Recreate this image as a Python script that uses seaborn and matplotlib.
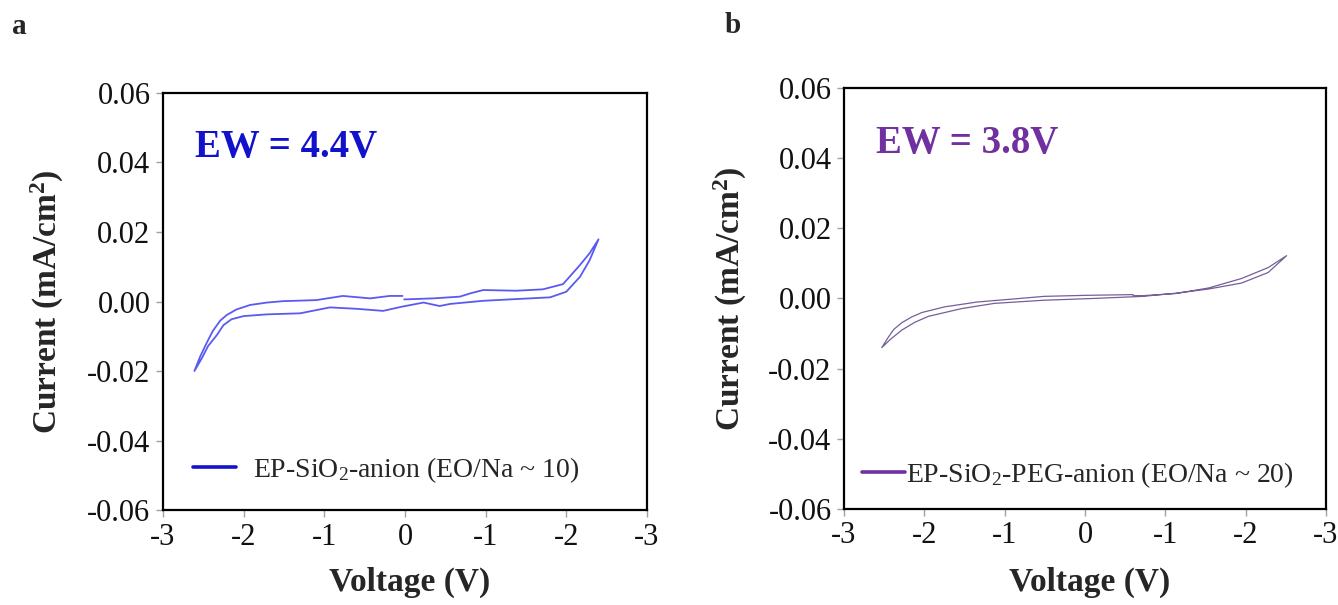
import numpy as np
import pandas as pd
import matplotlib
matplotlib.use("Agg")
import matplotlib.pyplot as plt
import seaborn as sns

# ---------------- data ----------------
a_volt = [-0.01, 0.35, 0.68, 0.82, 0.97, 1.38, 1.71, 1.96, 2.17, 2.29, 2.40,
          2.29, 2.17, 2.00, 1.80, 1.38, 0.97, 0.56, 0.43, 0.23, -0.04, -0.27,
          -0.60, -0.93, -1.30, -1.71, -2.00, -2.15, -2.25, -2.33, -2.44, -2.52, -2.61,
          -2.54, -2.46, -2.38, -2.29, -2.21, -2.09, -1.92, -1.71, -1.51, -1.10,
          -0.77, -0.43, -0.19, -0.03]
a_curr = [0.0006, 0.0009, 0.0014, 0.0024, 0.0033, 0.0031, 0.0035, 0.0050, 0.0105, 0.0139, 0.0179,
          0.0119, 0.0071, 0.0028, 0.0012, 0.0007, 0.0002, -0.0007, -0.0013, -0.0003, -0.0015, -0.0027,
          -0.0021, -0.0017, -0.0034, -0.0037, -0.0042, -0.0051, -0.0068, -0.0096, -0.0128, -0.0164, -0.0200,
          -0.0159, -0.0120, -0.0084, -0.0055, -0.0039, -0.0023, -0.0010, -0.0003, 0.0001, 0.0004,
          0.0016, 0.0009, 0.0016, 0.0016]

b_volt = [0.60, 0.02, -0.51, -0.92, -1.34, -1.75, -2.03, -2.16, -2.28, -2.38, -2.45, -2.53,
          -2.42, -2.28, -2.12, -1.95, -1.54, -1.13, -0.51, 0.10, 0.72, 1.13, 1.54, 1.95, 2.28, 2.51,
          2.28, 1.95, 1.54, 1.13, 0.72, 0.60]
b_curr = [0.0011, 0.0009, 0.0006, -0.0002, -0.0010, -0.0024, -0.0040, -0.0053, -0.0069, -0.0088, -0.0111, -0.0140,
          -0.0116, -0.0090, -0.0068, -0.0051, -0.0029, -0.0014, -0.0005, 0.0000, 0.0006, 0.0015, 0.0027, 0.0044, 0.0074, 0.0122,
          0.0088, 0.0057, 0.0030, 0.0014, 0.0008, 0.0008]

y_ticks = [-0.06, -0.04, -0.02, 0.00, 0.02, 0.04, 0.06]
x_ticks = [-3, -2, -1, 0, 1, 2, 3]
x_ticklabels = ["-3", "-2", "-1", "0", "-1", "-2", "-3"]

panels = [
    dict(df=pd.DataFrame({"V": a_volt, "I": a_curr}), letter="a", ew="EW = 4.4V",
         label="EP-SiO$_2$-anion (EO/Na ~ 10)", line="#5a5af2", lw=1.3,
         dark="#1212cc", textpad=0.6, leg_xy=(0.062, 0.096), ylab_x=-0.2,
         rect=[0.1218, 0.157, 0.3617, 0.6893]),
    dict(df=pd.DataFrame({"V": b_volt, "I": b_curr}), letter="b", ew="EW = 3.8V",
         label="EP-SiO$_2$-PEG-anion (EO/Na ~ 20)", line="#765f96", lw=0.9,
         dark="#7030a0", textpad=0.05, leg_xy=(0.037, 0.081), ylab_x=-0.198,
         rect=[0.6308, 0.1587, 0.3602, 0.6959]),
]

# ---------------- style ----------------
sns.set_theme(style="ticks")
plt.rcParams["font.family"] = ["Liberation Serif", "DejaVu Serif"]
plt.rcParams["mathtext.fontset"] = "custom"
plt.rcParams["mathtext.rm"] = "Liberation Serif"
plt.rcParams["mathtext.it"] = "Liberation Serif:italic"
plt.rcParams["mathtext.bf"] = "Liberation Serif:bold"

fig = plt.figure(figsize=(13.38, 6.05), dpi=100)
letter_pos = {"a": (12, 34), "b": (725, 33)}

for p in panels:
    ax = fig.add_axes(p["rect"])
    sns.lineplot(data=p["df"], x="V", y="I", sort=False, estimator=None,
                 color=p["line"], lw=p["lw"], ax=ax, label=p["label"])

    ax.set_xlim(-3, 3)
    ax.set_ylim(-0.06, 0.06)
    ax.set_xticks(x_ticks)
    ax.set_xticklabels(x_ticklabels)
    ax.set_yticks(y_ticks)
    ax.set_yticklabels([f"{v:.2f}" for v in y_ticks])
    ax.tick_params(axis="both", direction="out", length=5, width=1, color="#a0a0a0",
                   labelsize=22, labelcolor="#111111", pad=4)

    for s in ax.spines.values():
        s.set_visible(True)
        s.set_color("black")
        s.set_linewidth(1.6)

    ax.set_xlabel("Voltage (V)", fontsize=24, fontweight="bold")
    ax.set_ylabel(r"Current (mA/cm$^{\mathbf{2}}$)", fontsize=24, fontweight="bold")
    ax.xaxis.set_label_coords(0.51, -0.137)
    ax.yaxis.set_label_coords(p["ylab_x"], 0.5)

    ax.text(0.067, 0.846, p["ew"], transform=ax.transAxes, fontsize=28,
            fontweight="bold", color=p["dark"], va="baseline", ha="left")

    leg = ax.legend(loc="center left", bbox_to_anchor=p["leg_xy"], frameon=False,
                    fontsize=20, handlelength=1.55, handletextpad=p["textpad"],
                    borderpad=0, borderaxespad=0)
    for h in leg.get_lines():
        h.set_color(p["dark"])
        h.set_linewidth(2.6)

    lx, ly = letter_pos[p["letter"]]
    fig.text(lx / 1338, 1 - ly / 605, p["letter"], fontsize=21, fontweight="bold",
             va="baseline", ha="left")

fig.savefig("out.png", dpi=100)
